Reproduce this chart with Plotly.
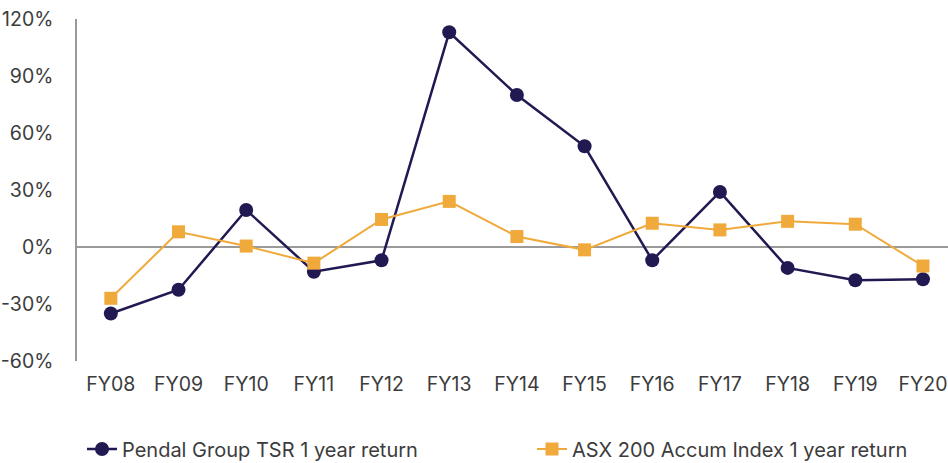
import plotly.graph_objects as go

years = ["FY08", "FY09", "FY10", "FY11", "FY12", "FY13", "FY14",
         "FY15", "FY16", "FY17", "FY18", "FY19", "FY20"]
pendal_tsr = [-35, -22.5, 19.5, -13, -7, 113, 80, 53, -7, 29, -11, -17.5, -17]
asx200 = [-27, 8, 0.5, -8.5, 14.5, 24, 5.5, -1.5, 12.5, 9, 13.5, 12, -10]
y_ticks = [-60, -30, 0, 30, 60, 90, 120]
y_labels = ["-60%", "-30%", "0%", "30%", "60%", "90%", "120%"]

navy = "#211a52"
orange = "#f0a93b"
grey_text = "#3c3c3c"
font = "Inter, Liberation Sans, sans-serif"

fig = go.Figure()

fig.add_trace(go.Scatter(x=years, y=pendal_tsr, mode="lines+markers",
                         name="Pendal Group TSR 1 year return",
                         line=dict(color=navy, width=2.5),
                         marker=dict(symbol="circle", size=14, color=navy),
                         legend="legend"))

fig.add_trace(go.Scatter(x=years, y=asx200, mode="lines+markers",
                         name="ASX 200 Accum Index 1 year return",
                         line=dict(color=orange, width=2),
                         marker=dict(symbol="square", size=13, color=orange),
                         legend="legend2"))

legend_style = dict(orientation="h", xref="container", yref="container",
                    y=1 - 449 / 463, xanchor="left", yanchor="middle",
                    font=dict(size=20, color=grey_text))

fig.update_layout(
    width=948, height=463,
    margin=dict(l=77, r=0, t=19, b=102),
    plot_bgcolor="white", paper_bgcolor="white",
    font=dict(family=font, size=19.5, color=grey_text),
    xaxis=dict(type="category", range=[-0.5, 12.37], showgrid=False,
               showline=False, zeroline=False, ticks="", ticklabelstandoff=9,
               automargin=False),
    yaxis=dict(range=[-60, 120], tickvals=y_ticks, ticktext=y_labels,
               showgrid=False, showline=True, linecolor="#9a9a9a",
               linewidth=1.5, zeroline=True, zerolinecolor="#9a9a9a",
               zerolinewidth=1.5, ticks="", ticklabelstandoff=18,
               automargin=False),
    showlegend=True,
    legend=dict(x=82 / 948, **legend_style),
    legend2=dict(x=532 / 948, **legend_style),
)

# drop the page's default 8px body margin so the figure fills the window
fig.write_html("out.html", config={"displayModeBar": False},
               post_script="document.body.style.margin='0';")
